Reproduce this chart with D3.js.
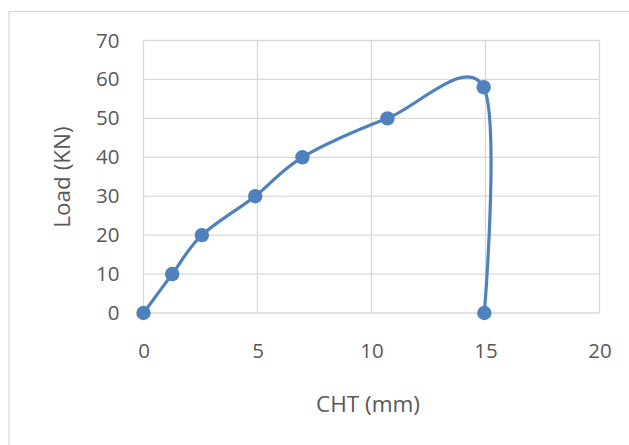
<!DOCTYPE html>
<html>
<head>
<meta charset="utf-8">
<script src="https://cdn.jsdelivr.net/npm/d3@7"></script>
<style>
  body { margin: 0; background: #fff; }
  svg text { font-family: "Open Sans", "Liberation Sans", sans-serif; fill: #595959; }
</style>
</head>
<body>
<div id="chart"></div>
<script>
// values
const CHT = [0, 1.26, 2.56, 4.9, 6.97, 10.7, 14.92, 14.95];
const LOAD = [0, 10, 20, 30, 40, 50, 58, 0];
const X_TICKS = [0, 5, 10, 15, 20];
const Y_TICKS = [0, 10, 20, 30, 40, 50, 60, 70];

const W = 629, H = 445;
const PLOT = { left: 143.5, right: 599.5, top: 40.5, bottom: 313 };

const svg = d3.select('#chart')
    .append('svg')
    .attr('width', W)
    .attr('height', H);

// chart frame
svg.append('rect')
    .attr('x', 9).attr('y', 11.5)
    .attr('width', W + 10).attr('height', H + 10)
    .attr('fill', 'none')
    .attr('stroke', '#d9d9d9')
    .attr('stroke-width', 1.3);

const x = d3.scaleLinear().domain([0, 20]).range([PLOT.left, PLOT.right]);
const y = d3.scaleLinear().domain([0, 70]).range([PLOT.bottom, PLOT.top]);

// gridlines
const grid = svg.append('g').attr('stroke', '#d9d9d9').attr('stroke-width', 1.3);
grid.selectAll('.hx')
    .data(Y_TICKS)
    .enter().append('line')
    .attr('x1', PLOT.left).attr('x2', PLOT.right)
    .attr('y1', d => y(d)).attr('y2', d => y(d));
grid.selectAll('.vx')
    .data(X_TICKS)
    .enter().append('line')
    .attr('y1', PLOT.top).attr('y2', PLOT.bottom)
    .attr('x1', d => x(d)).attr('x2', d => x(d));

// axes (labels only)
const xAxis = svg.append('g')
    .attr('transform', `translate(0,${PLOT.bottom})`)
    .call(d3.axisBottom(x).tickValues(X_TICKS).tickSize(0).tickPadding(30));
const yAxis = svg.append('g')
    .attr('transform', `translate(${PLOT.left},0)`)
    .call(d3.axisLeft(y).tickValues(Y_TICKS).tickSize(0).tickPadding(24));
[xAxis, yAxis].forEach(a => {
    a.select('.domain').remove();
    a.selectAll('text').style('font-size', '20.5px').attr('fill', '#595959');
});

// axis titles
svg.append('text')
    .attr('x', 368).attr('y', 412)
    .attr('text-anchor', 'middle')
    .style('font-size', '22.5px')
    .text('CHT (mm)');
svg.append('text')
    .attr('transform', 'translate(70,177) rotate(-90)')
    .attr('text-anchor', 'middle')
    .style('font-size', '22.5px')
    .text('Load (KN)');

// smoothed series line (Excel-like smoothing)
const pts = CHT.map((d, i) => [d, LOAD[i]]);
const line = d3.line()
    .x(d => x(d[0]))
    .y(d => y(d[1]))
    .curve(d3.curveCardinal.tension(0));

svg.append('path')
    .datum(pts)
    .attr('d', line)
    .attr('fill', 'none')
    .attr('stroke', '#4f81bd')
    .attr('stroke-width', 3.2)
    .attr('stroke-linejoin', 'round');

svg.selectAll('.dot')
    .data(pts)
    .enter().append('circle')
    .attr('cx', d => x(d[0]))
    .attr('cy', d => y(d[1]))
    .attr('r', 7.2)
    .attr('fill', '#4f81bd');
</script>
</body>
</html>
